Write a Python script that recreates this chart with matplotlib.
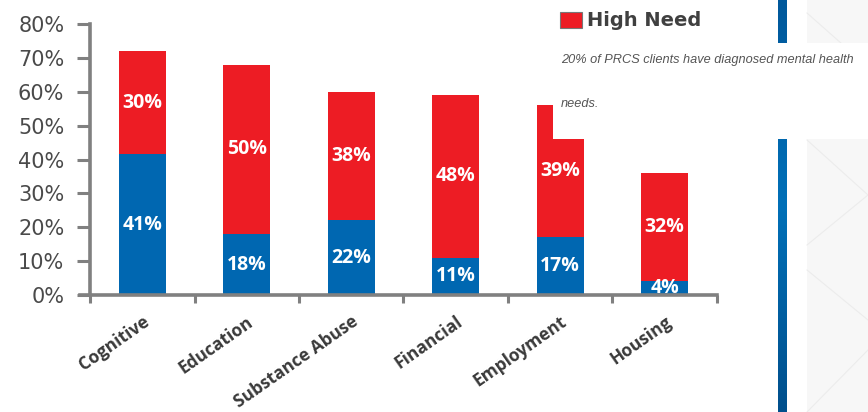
import matplotlib
matplotlib.use("Agg")
import matplotlib.pyplot as plt
import matplotlib.transforms as mtransforms
from matplotlib.patches import Rectangle
from matplotlib.lines import Line2D
from matplotlib.colors import LinearSegmentedColormap
from matplotlib import font_manager
import numpy as np

# ---------------- data ----------------
categories = ["Cognitive", "Education", "Substance Abuse", "Financial", "Employment", "Housing"]
moderate_need = [41.6, 18, 22, 11, 17, 4]      # blue segments
high_need = [30.4, 50, 38, 48, 39, 32]         # red segments
y_ticks = [0, 10, 20, 30, 40, 50, 60, 70, 80]
legend_label = "High Need"
note_lines = ["20% of PRCS clients have diagnosed mental health", "needs."]

# ---------------- style ----------------
BLUE = "#0067B1"
RED = "#ED1C24"
AXIS_GRAY = "#808080"
TEXT_GRAY = "#4a4a4a"

names = {f.name for f in font_manager.fontManager.ttflist}
bold_font = "Open Sans" if "Open Sans" in names else "DejaVu Sans"
narrow_font = "Liberation Sans Narrow" if "Liberation Sans Narrow" in names else "Liberation Sans"

W, H = 868, 412
fig = plt.figure(figsize=(W / 100, H / 100), dpi=100)
fig.patch.set_facecolor("white")

def fx(px):
    return px / W

def fy(py):
    return 1 - py / H

ax = fig.add_axes([fx(90), fy(295), fx(717) - fx(90), (295 - 24) / H])
x = np.arange(len(categories))
bw = 0.445
ax.bar(x, moderate_need, width=bw, color=BLUE, zorder=2)
ax.bar(x, high_need, width=bw, bottom=moderate_need, color=RED, zorder=2)

for xi, b, r in zip(x, moderate_need, high_need):
    ax.text(xi, b / 2, f"{int(b)}%", ha="center", va="center", color="white",
            fontsize=14, fontweight="bold", family=bold_font, zorder=3)
    ax.text(xi, b + r / 2, f"{int(r)}%", ha="center", va="center", color="white",
            fontsize=14, fontweight="bold", family=bold_font, zorder=3)

ax.set_xlim(-0.5, len(categories) - 0.5)
ax.set_ylim(0, 80)
ax.set_yticks(y_ticks)
ax.set_yticklabels([f"{v}%" for v in y_ticks], fontsize=15, color=TEXT_GRAY)
ax.tick_params(axis="y", length=9.5, width=2.2, color=AXIS_GRAY, pad=9)

ax.set_xticks(x)
ax.set_xticklabels(categories, rotation=35, ha="right", va="center",
                   rotation_mode="anchor", fontsize=12.5, fontweight="bold",
                   family=bold_font, color="#3a3a3a")
ax.tick_params(axis="x", which="major", length=0, pad=18)
ax.set_xticks(np.arange(-0.5, len(categories), 1.0), minor=True)
ax.tick_params(axis="x", which="minor", length=6, width=2.2, color=AXIS_GRAY)
offset = mtransforms.ScaledTranslation(5 / 100, 0, fig.dpi_scale_trans)
for lbl in ax.get_xticklabels():
    lbl.set_transform(lbl.get_transform() + offset)

for s in ["top", "right"]:
    ax.spines[s].set_visible(False)
for s in ["left", "bottom"]:
    ax.spines[s].set_color(AXIS_GRAY)
    ax.spines[s].set_linewidth(2.6)
ax.spines["bottom"].set_bounds(-0.6, len(categories) - 0.5)

# ---------------- right-side decoration ----------------
fig.patches.append(Rectangle((fx(807), 0), 1 - fx(807), 1, transform=fig.transFigure,
                             facecolor="#f7f7f7", edgecolor="none", zorder=1))
for (x0, y0, x1, y1) in [(807, 13, 868, 67), (807, 140, 868, 195), (807, 245, 868, 195),
                         (807, 270, 868, 320), (807, 412, 868, 350)]:
    fig.lines.append(Line2D([fx(x0), fx(x1)], [fy(y0), fy(y1)], transform=fig.transFigure,
                            color="#ececec", lw=0.8, zorder=1.5))

grad_ax = fig.add_axes([fx(778), 0, fx(787) - fx(778), 1])
grad = np.linspace(0, 1, 256).reshape(-1, 1)
cmap = LinearSegmentedColormap.from_list("bluebar", ["#00589b", "#0070b8", "#004f8c"])
grad_ax.imshow(grad, aspect="auto", cmap=cmap)
grad_ax.set_axis_off()
grad_ax.set_zorder(1)

# white note box covering the top-right region
fig.patches.append(Rectangle((fx(553), fy(139)), 1 - fx(553), (139 - 43) / H,
                             transform=fig.transFigure, facecolor="white",
                             edgecolor="none", zorder=5))

# legend
fig.patches.append(Rectangle((fx(560), fy(28)), fx(582) - fx(560), (28 - 12) / H,
                             transform=fig.transFigure, facecolor=RED,
                             edgecolor="#777777", lw=0.8, zorder=6))
fig.text(fx(587), fy(20), legend_label, ha="left", va="center", fontsize=14,
         fontweight="bold", color="#404040", zorder=6)

fig.text(fx(561), fy(63), note_lines[0], ha="left", va="baseline", fontsize=9.2,
         style="italic", family=[narrow_font, "DejaVu Sans"], color="#555555", zorder=6)
fig.text(fx(561), fy(107), note_lines[1], ha="left", va="baseline", fontsize=9.2,
         style="italic", family=[narrow_font, "DejaVu Sans"], color="#555555", zorder=6)

fig.savefig("out.png", dpi=100, facecolor="white")
